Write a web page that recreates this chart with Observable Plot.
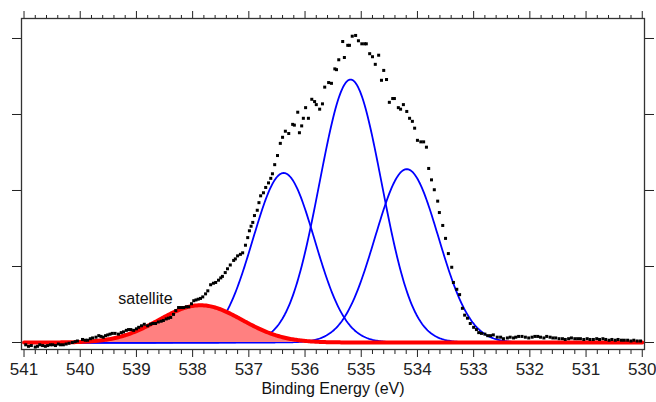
<!DOCTYPE html>
<html>
<head>
<meta charset="utf-8">
<script src="https://cdn.jsdelivr.net/npm/d3@7"></script>
<script src="https://cdn.jsdelivr.net/npm/@observablehq/plot@0.6"></script>
<style>
  html, body { margin: 0; padding: 0; background: #fff; }
  #chart { width: 656px; height: 402px; }
</style>
</head>
<body>
<div id="chart"></div>
<script>
// Measured spectrum (binding energy in eV, intensity in tick units)
const bindingEnergy = [
540.97,540.92,540.87,540.80,540.76,540.72,540.67,540.62,540.58,540.53,540.49,540.44,540.39,540.35,540.30,540.25,540.20,540.14,540.09,540.05,
539.96,539.91,539.87,539.82,539.78,539.72,539.67,539.63,539.59,539.55,539.51,539.47,539.43,539.38,539.32,539.27,539.23,539.18,539.14,539.10,539.05,539.00,
538.96,538.91,538.86,538.80,538.75,538.71,538.66,538.61,538.56,538.52,538.47,538.43,538.39,538.34,538.30,538.25,538.20,538.16,538.11,538.07,538.02,
537.98,537.94,537.90,537.86,537.82,537.77,537.73,537.68,537.63,537.59,537.54,537.50,537.47,537.42,537.38,537.33,537.27,537.24,537.20,537.15,537.11,537.06,537.02,
536.99,536.96,536.93,536.90,536.85,536.82,536.79,536.74,536.70,536.65,536.61,536.58,536.54,536.49,536.44,536.40,536.35,536.29,536.22,536.19,536.13,536.10,536.06,536.03,
535.99,535.94,535.88,535.83,535.80,535.74,535.69,535.65,535.58,535.53,535.47,535.44,535.40,535.33,535.30,535.24,535.21,535.16,535.10,535.05,
534.99,534.94,534.91,534.85,534.80,534.75,534.69,534.64,534.60,534.55,534.50,534.44,534.41,534.34,534.30,534.25,534.19,534.14,534.09,534.05,534.00,
533.94,533.89,533.84,533.80,533.75,533.70,533.64,533.61,533.55,533.50,533.45,533.39,533.36,533.30,533.25,533.20,533.16,533.11,533.06,533.00,
532.95,532.91,532.86,532.80,532.75,532.70,532.65,532.58,532.52,532.47,532.40,532.35,532.29,532.25,532.20,532.14,532.08,532.02,
531.96,531.91,531.86,531.81,531.75,531.70,531.64,531.59,531.54,531.48,531.42,531.37,531.31,531.26,531.20,531.15,531.10,531.04,
530.98,530.93,530.87,530.81,530.76,530.70,530.65,530.59,530.54,530.48,530.43,530.37,530.32,530.26,530.20,530.15,530.09,530.03
];
const intensity = [
-0.03,-0.05,-0.04,-0.06,-0.05,-0.03,-0.04,-0.05,-0.04,-0.03,-0.03,-0.04,-0.02,-0.03,-0.03,-0.02,-0.01,0.00,0.01,0.02,
0.04,0.03,0.03,0.05,0.06,0.07,0.09,0.08,0.07,0.09,0.10,0.11,0.12,0.12,0.11,0.13,0.14,0.16,0.17,0.17,0.16,0.18,
0.20,0.22,0.24,0.22,0.24,0.25,0.25,0.27,0.28,0.29,0.31,0.32,0.33,0.37,0.42,0.46,0.46,0.46,0.47,0.47,0.51,
0.55,0.56,0.57,0.58,0.60,0.64,0.68,0.76,0.78,0.79,0.82,0.85,0.87,0.92,0.97,1.02,1.08,1.10,1.14,1.16,1.18,1.28,1.38,
1.47,1.53,1.58,1.67,1.74,1.84,1.93,1.97,2.04,2.10,2.16,2.22,2.34,2.46,2.62,2.70,2.78,2.75,2.87,2.86,3.03,2.76,2.85,2.95,
3.09,2.95,3.20,3.17,3.13,3.07,3.14,3.36,3.42,3.41,3.60,3.59,3.72,3.96,3.75,3.91,3.91,4.03,4.04,3.97,
3.93,3.93,3.93,3.80,3.76,3.66,3.78,3.45,3.58,3.46,3.16,3.21,3.21,3.09,3.07,3.13,3.04,2.95,2.91,2.82,2.66,
2.64,2.64,2.57,2.29,2.14,2.01,1.86,1.71,1.54,1.37,1.17,0.99,0.79,0.70,0.63,0.45,0.36,0.32,0.25,0.20,
0.17,0.13,0.12,0.11,0.09,0.09,0.10,0.07,0.07,0.05,0.06,0.07,0.06,0.07,0.08,0.08,0.07,0.06,
0.07,0.08,0.08,0.07,0.06,0.08,0.07,0.06,0.06,0.05,0.05,0.04,0.05,0.06,0.05,0.05,0.05,0.04,
0.05,0.04,0.04,0.05,0.04,0.05,0.04,0.03,0.04,0.03,0.04,0.03,0.03,0.03,0.02,0.03,0.02,0.02
];

// Fitted components (Gaussian peaks): center (eV), height, width (sigma, eV)
const peakCenters = [536.38, 535.19, 534.19];
const peakHeights = [2.23, 3.46, 2.28];
const peakWidths  = [0.55, 0.553, 0.565];
const satelliteCenter = [537.86];
const satelliteHeight = [0.49];
const satelliteWidth  = [0.74];

// Axes
const xTickLabels = [541, 540, 539, 538, 537, 536, 535, 534, 533, 532, 531, 530];
const yTickValues = [0, 1, 2, 3, 4];
const annotationLabels = ["satellite"];
const annotationBE = [538.84];
const annotationValue = [0.58];
const xAxisTitle = ["Binding Energy (eV)"];

// Build tables
const spectrum = bindingEnergy.map((be, i) => ({be, value: intensity[i]}));
const xMinorTicks = [];
for (let k = 0; k < xTickLabels.length - 1; k++) {
  for (let j = 1; j <= 4; j++) xMinorTicks.push(+(xTickLabels[k] - j * 0.2).toFixed(2));
}
const grid = d3.range(0, 551).map(i => +(541 - i * 0.02).toFixed(3));
const gauss = (x, c, h, w) => h * Math.exp(-((x - c) ** 2) / (2 * w * w));
const peakCurves = peakCenters.map((c, k) =>
  grid.map(x => ({be: x, value: gauss(x, c, peakHeights[k], peakWidths[k]), peak: k})));
const satCurve = grid.map(x => ({be: x, value: gauss(x, satelliteCenter[0], satelliteHeight[0], satelliteWidth[0])}));
const annotations = annotationLabels.map((label, i) => ({label, be: annotationBE[i], value: annotationValue[i]}));

const blank = () => "";

const chart = Plot.plot({
  width: 656,
  height: 402,
  marginLeft: 21,
  marginRight: 12,
  marginTop: 18,
  marginBottom: 53,
  style: {fontFamily: "'Liberation Sans', Arial, sans-serif", fontSize: "17px", color: "#222", background: "#fff"},
  x: {domain: [541.045, 529.96]},
  y: {domain: [-0.092, 4.263]},
  marks: [
    Plot.axisX({anchor: "bottom", ticks: xTickLabels, tickSize: 8, tickPadding: 5, tickFormat: d => String(d), label: null, fontSize: 17}),
    Plot.axisX({anchor: "bottom", ticks: xMinorTicks, tickSize: 5, tickFormat: blank, label: null}),
    Plot.axisX({anchor: "top", ticks: xTickLabels, tickSize: 8, tickFormat: blank, label: null}),
    Plot.axisX({anchor: "top", ticks: xMinorTicks, tickSize: 4, tickFormat: blank, label: null}),
    Plot.axisY({anchor: "left", ticks: yTickValues, tickSize: 9, tickFormat: blank, label: null}),
    Plot.axisY({anchor: "right", ticks: yTickValues, tickSize: 9, tickFormat: blank, label: null}),
    ...peakCurves.map(curve => Plot.line(curve, {x: "be", y: "value", stroke: "#0000ff", strokeWidth: 1.8})),
    Plot.areaY(satCurve, {x: "be", y: "value", fill: "#ff8080"}),
    Plot.line(satCurve, {x: "be", y: "value", stroke: "#ff0000", strokeWidth: 4}),
    Plot.dot(spectrum, {x: "be", y: "value", symbol: "square", r: 1.7, fill: "#000", stroke: null}),
    Plot.frame({stroke: "#333", strokeWidth: 1.3}),
    Plot.text(annotations, {x: "be", y: "value", text: "label", fontSize: 16, fill: "#111"}),
    Plot.text(xAxisTitle, {text: d => d, frameAnchor: "bottom", dy: 39, lineAnchor: "middle", fontSize: 16, fill: "#111"})
  ]
});
document.getElementById("chart").appendChild(chart);
</script>
</body>
</html>
